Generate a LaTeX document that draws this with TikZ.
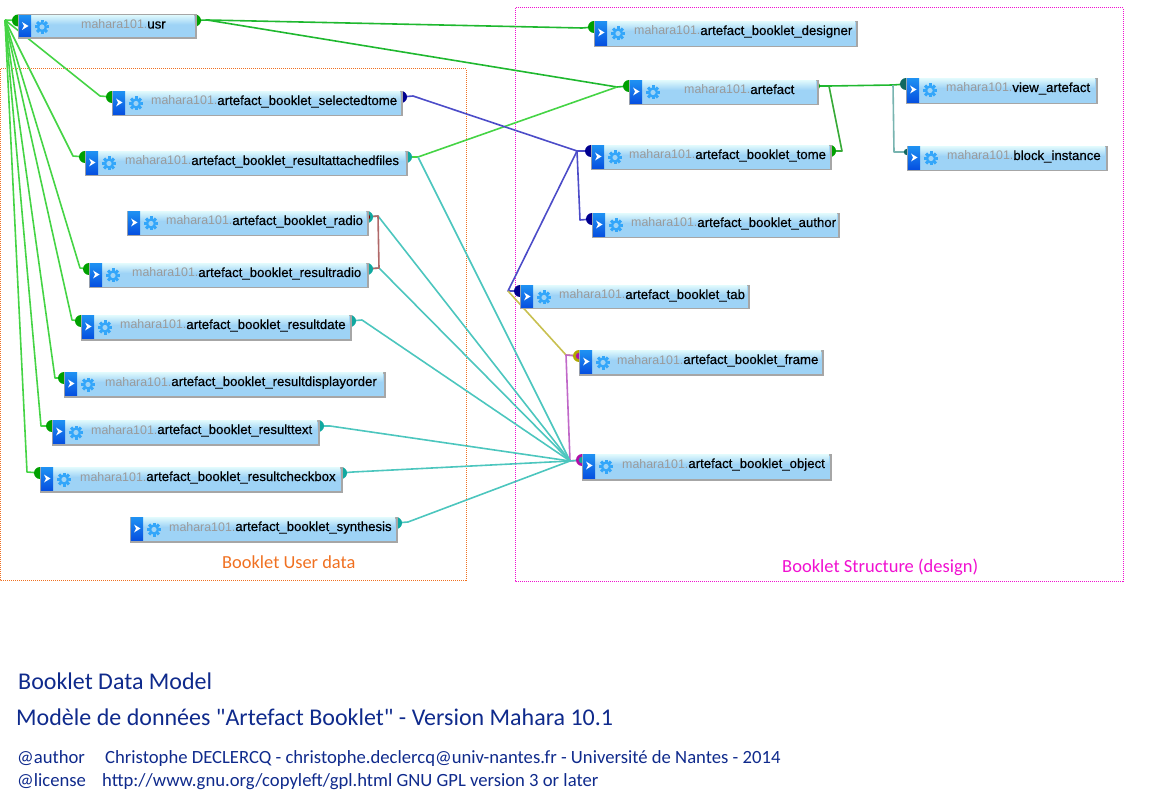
\documentclass[tikz,border=0pt]{standalone}
\usepackage{fontspec}
\setmainfont{Liberation Sans}
\newfontfamily\calib{Carlito}
\newfontfamily\nmfont[FakeBold=0.25]{Liberation Sans}
\pgfdeclarelayer{wires}
\pgfsetlayers{wires,main}
\definecolor{tblbody}{HTML}{9ED3F6}
\definecolor{tbltop}{HTML}{DDF8FC}
\definecolor{tbledge}{HTML}{A6A6A6}
\definecolor{btntop}{HTML}{1E90F2}
\definecolor{btnbot}{HTML}{0650E0}
\definecolor{gearc}{HTML}{33A6FA}
\definecolor{schema}{HTML}{9A9A9A}
\definecolor{wgreen}{HTML}{45D445}
\definecolor{wdgreen}{HTML}{1FB82F}
\definecolor{wblue}{HTML}{4C4CC8}
\definecolor{wteal}{HTML}{4CC6BE}
\definecolor{wgray}{HTML}{78B4B0}
\definecolor{wyel}{HTML}{C8C050}
\definecolor{wmag}{HTML}{C068C8}
\definecolor{wred}{HTML}{B06868}
\definecolor{pgreen}{HTML}{00A000}
\definecolor{pblue}{HTML}{000090}
\definecolor{pteal}{HTML}{10A8A0}
\definecolor{pdteal}{HTML}{106860}
\definecolor{pyel}{HTML}{B0A800}
\definecolor{pmag}{HTML}{B010A8}
\definecolor{pred}{HTML}{800000}
\definecolor{navy}{HTML}{0F2A8C}
\definecolor{orangeb}{HTML}{F07020}
\definecolor{magb}{HTML}{F010D0}
\tikzset{
  x=1pt,y=-1pt,
  tbl/.style={draw=tbledge,line width=1.5pt,fill=tblbody,rectangle,inner sep=0pt,anchor=north west},
  tbltxt/.style={anchor=base west,inner sep=0pt},
  wire/.style={line width=1.6pt,line join=round},
  frm/.style={line width=1pt,dash pattern=on 1pt off 1pt},
  note/.style={anchor=base west,inner sep=0pt,text=navy},
}
% name, x1, y1, x2, y2, text x, label
\newcommand{\tbox}[7]{%
  \pgfmathsetmacro{\wid}{#4-#2-1}\pgfmathsetmacro{\hei}{#5-#3-1}%
  \node[tbl,minimum width=\wid pt,minimum height=\hei pt] (#1) at (#2,#3) {};
  \shade[top color=tbltop,bottom color=tblbody] (#2+.8,#3+.8) rectangle (#4-1.8,#3+10);
  \shade[top color=btntop,bottom color=btnbot] (#2+.8,#3+.8) rectangle (#2+13,#5-1.8);
  \fill[white] (#2+4,#3+7.5) -- (#2+10.5,#3+11.5) -- (#2+4,#3+15.5) -- (#2+6,#3+11.5) -- cycle;
  \begin{scope}[shift={(#2+24,#3+12.5)}]
    \fill[gearc] (0,0) circle[radius=5.2];
    \foreach \a in {0,45,...,315}{\fill[gearc,rotate=\a] (-1.5,-4.5) rectangle (1.5,-7);}
    \fill[tblbody] (0,0) circle[radius=2.6];
  \end{scope}
  \node[tbltxt] (#1-t) at (#6,#3+14) {\fontsize{12.4}{14}\selectfont\textcolor{schema}{mahara101.}\nmfont\fontsize{13.2}{14}\selectfont\textcolor{black}{#7}};
  \coordinate (#1-l) at (#2,#3+6);
  \coordinate (#1-r) at (#4-1,#3+6);
}
\newcommand{\port}[2]{\begin{pgfonlayer}{wires}\fill[#2] (#1) circle[radius=6];\end{pgfonlayer}}
\newcommand{\miniport}[2]{\begin{pgfonlayer}{wires}\fill[#2] (#1) circle[radius=3.2];\end{pgfonlayer}}
\begin{document}
\begin{tikzpicture}
\useasboundingbox (0,0) rectangle (1161,799);

\tbox{usr}{18}{14.5}{196}{38.5}{81}{usr}
\tbox{seltome}{112}{91}{402}{116}{151}{artefact\_booklet\_selectedtome}
\tbox{resfiles}{85}{151}{407}{176}{125}{artefact\_booklet\_resultattachedfiles}
\tbox{radio}{127}{211}{368}{236}{166}{artefact\_booklet\_radio}
\tbox{resradio}{89}{263}{368}{288}{132}{artefact\_booklet\_resultradio}
\tbox{resdate}{81}{315}{351}{340}{120}{artefact\_booklet\_resultdate}
\tbox{resorder}{64}{372}{385}{397}{105}{artefact\_booklet\_resultdisplayorder}
\tbox{restext}{52}{420}{319}{445}{91}{artefact\_booklet\_resulttext}
\tbox{rescheck}{40}{467}{342}{492}{80}{artefact\_booklet\_resultcheckbox}
\tbox{synth}{130}{517}{397}{542}{169}{artefact\_booklet\_synthesis}
\tbox{designer}{594}{21}{857}{47}{634}{artefact\_booklet\_designer}
\tbox{artefact}{629}{80}{818}{105}{684}{artefact}
\tbox{tome}{591}{145}{831}{170}{629}{artefact\_booklet\_tome}
\tbox{author}{592}{213}{839}{238}{631}{artefact\_booklet\_author}
\tbox{tab}{520}{285}{749}{309}{559}{artefact\_booklet\_tab}
\tbox{frame}{579}{350}{823}{375}{617}{artefact\_booklet\_frame}
\tbox{object}{582}{454}{831}{480}{622}{artefact\_booklet\_object}
\tbox{view}{906}{78}{1097}{104}{946}{view\_artefact}
\tbox{block}{907}{146}{1107}{171}{947}{block\_instance}

\coordinate (usrhub) at (5,20);
\coordinate (usrout) at (207,20);
\coordinate (artin) at (617,87);
\coordinate (artout) at (829,86);
\coordinate (viewhub) at (893,85);
\coordinate (tomehub) at (577,151);
\coordinate (tabhub) at (508,291);
\coordinate (framehub) at (566,355);
\coordinate (objhub) at (570,461);
\coordinate (filesout) at (418,157);
\coordinate (radioout) at (378,216);
\coordinate (resradioout) at (379,268);

\begin{pgfonlayer}{wires}
\draw[frm,orangeb] (0,69) rectangle (466,580);
\draw[frm,magb] (515,8) rectangle (1123,581);
\draw[wire,wgreen] (usr-l) -- (usrhub);
\draw[wire,wgreen] (usrhub) -- (100,96) -- (seltome-l);
\draw[wire,wgreen] (usrhub) -- (73,156) -- (resfiles-l);
\draw[wire,wgreen] (usrhub) -- (80,268) -- (resradio-l);
\draw[wire,wgreen] (usrhub) -- (72,320) -- (resdate-l);
\draw[wire,wgreen] (usrhub) -- (55,378) -- (resorder-l);
\draw[wire,wgreen] (usrhub) -- (41,426) -- (restext-l);
\draw[wire,wgreen] (usrhub) -- (27,472) -- (rescheck-l);
\draw[wire,wdgreen] (usr-r) -- (usrout) -- (582,28) -- (designer-l);
\draw[wire,wdgreen] (usrout) -- (artin) -- (artefact-l);
\draw[wire,wgreen] (resfiles-r) -- (filesout) -- (artin);
\draw[wire,wdgreen] (artefact-r) -- (artout) -- (viewhub) -- (view-l);
\draw[wire,wgreen!80!black] (artout) -- (842,151) -- (tome-r);
\draw[wire,wgray] (viewhub) -- (894,152) -- (block-l);
\draw[wire,wblue] (seltome-r) -- (413,96) -- (tomehub) -- (tome-l);
\draw[wire,wblue] (tomehub) -- (580,220) -- (author-l);
\draw[wire,wblue] (tomehub) -- (tabhub) -- (tab-l);
\draw[wire,wyel] (tabhub) -- (framehub) -- (frame-l);
\draw[wire,wmag] (frame-l) -- (framehub) -- (objhub) -- (object-l);
\draw[wire,wteal] (filesout) -- (objhub);
\draw[wire,wteal] (radio-r) -- (radioout) -- (objhub);
\draw[wire,wteal] (resradio-r) -- (resradioout) -- (objhub);
\draw[wire,wteal] (resdate-r) -- (362,320) -- (objhub);
\draw[wire,wteal] (restext-r) -- (330,426) -- (objhub);
\draw[wire,wteal] (rescheck-r) -- (353,472) -- (objhub);
\draw[wire,wteal] (synth-r) -- (408,522) -- (objhub) -- (object-l);
\draw[wire,wred] (radio-r) -- (radioout) -- (resradioout) -- (resradio-r);
\end{pgfonlayer}

\port{usr-l}{pgreen}\port{usr-r}{pgreen}
\port{seltome-l}{pgreen}\port{seltome-r}{pblue}
\port{resfiles-l}{pgreen}\port{resfiles-r}{pteal}
\port{radio-r}{pteal}\miniport{radio-r}{pred}
\port{resradio-l}{pgreen}\port{resradio-r}{pteal}
\port{resdate-l}{pgreen}\port{resdate-r}{pteal}
\port{resorder-l}{pgreen}
\port{restext-l}{pgreen}\port{restext-r}{pteal}
\port{rescheck-l}{pgreen}\port{rescheck-r}{pteal}
\port{synth-r}{pteal}
\port{designer-l}{pgreen}
\port{artefact-l}{pgreen}\miniport{artefact-r}{pgreen}
\port{tome-l}{pblue}\port{tome-r}{pgreen}
\port{author-l}{pblue}
\port{tab-l}{pblue}
\port{frame-l}{pyel}\miniport{frame-l}{pmag}
\port{object-l}{pmag}\miniport{object-l}{pteal}
\port{view-l}{pdteal}\miniport{block-l}{pdteal}

\node[anchor=base west,inner sep=0pt,text=orangeb,font=\calib\fontsize{18.4}{20}\selectfont] (lab1) at (222,568) {Booklet User data};
\node[anchor=base west,inner sep=0pt,text=magb,font=\calib\fontsize{18.5}{20}\selectfont] (lab2) at (782,572) {Booklet Structure (design)};
\node[note,font=\calib\fontsize{24}{26}\selectfont] (t1) at (18,689) {Booklet Data Model};
\node[note,font=\calib\fontsize{24}{26}\selectfont] (t2) at (16,725) {Modèle de données "Artefact Booklet" - Version Mahara 10.1};
\node[note,font=\calib\fontsize{18.66}{22}\selectfont] (t3) at (17,763) {@author};
\node[note,font=\calib\fontsize{18.66}{22}\selectfont] (t4) at (105,763) {Christophe DECLERCQ - christophe.declercq@univ-nantes.fr - Université de Nantes - 2014};
\node[note,font=\calib\fontsize{18.66}{22}\selectfont] (t5) at (17,786) {@license};
\node[note,font=\calib\fontsize{18.66}{22}\selectfont] (t6) at (102,786) {http://www.gnu.org/copyleft/gpl.html GNU GPL version 3 or later};
\end{tikzpicture}
\end{document}
